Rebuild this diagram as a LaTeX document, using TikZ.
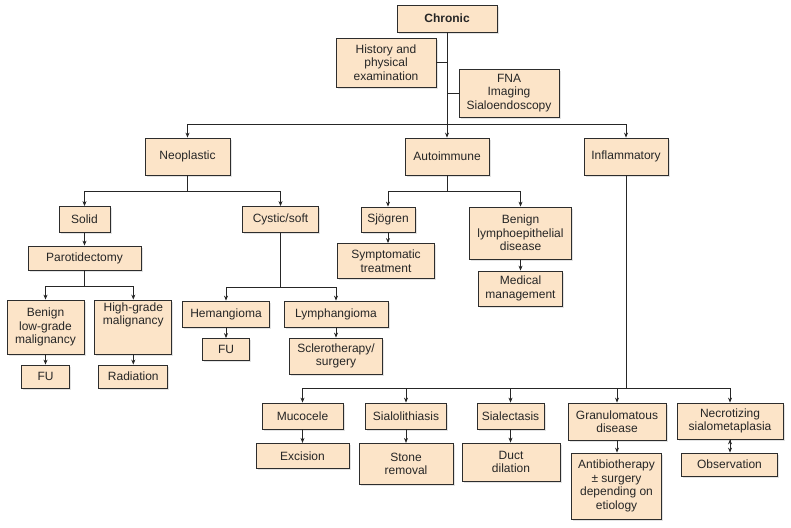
\documentclass[tikz,border=0pt]{standalone}
\usepackage{fontspec}
\setmainfont{Liberation Sans}
\usetikzlibrary{arrows.meta,shadows}
\definecolor{boxfill}{RGB}{252,228,200}
\definecolor{boxline}{RGB}{45,45,45}
\tikzset{
	box/.style={draw=boxline, fill=boxfill, line width=0.8pt, align=center, inner sep=1pt,
		font=\fontsize{12}{13.5}\selectfont, text=black!85,
		drop shadow={shadow xshift=1.6pt, shadow yshift=-1.6pt, fill=black!22}},
	tree/.style={to path={(\tikztostart) -- ++(0,#1) -| (\tikztotarget)}}
}

\begin{document}
\begin{tikzpicture}[x=1pt, y=-1pt]
	\useasboundingbox (0,0) rectangle (791,527);
	% top
	\node (chr) at (447,18.5) [box, minimum width=100pt, minimum height=27pt] {\bfseries Chronic};
	\node (hist) at (386,62.5) [box, minimum width=100pt, minimum height=49pt] {History and\\physical\\examination};
	\node (fna) at (509,93) [box, minimum width=100pt, minimum height=48pt] {FNA\\Imaging\\Sialoendoscopy};
	\node (neo) at (187.5,156.5) [box, minimum width=85pt, minimum height=37pt] {Neoplastic};
	\node (auto) at (447,156.5) [box, minimum width=84pt, minimum height=37pt] {Autoimmune};
	\node (infl) at (626,156.5) [box, minimum width=84pt, minimum height=37pt] {Inflammatory};
	% neoplastic
	\node (solid) at (84.5,219.5) [box, minimum width=51pt, minimum height=26pt] {Solid};
	\node (cyst) at (280.5,219.5) [box, minimum width=76pt, minimum height=26pt] {Cystic/soft};
	\node (paro) at (84.5,258) [box, minimum width=113pt, minimum height=24pt] {Parotidectomy};
	\node (benlow) at (45.5,327) [box, minimum width=77pt, minimum height=54pt] {Benign\\low-grade\\malignancy};
	\node (high) at (133.3,327) [box, minimum width=77pt, minimum height=54pt] {High-grade\\malignancy\\[13.5pt]};
	\node (fua) at (45.5,376.5) [box, minimum width=48pt, minimum height=23pt] {FU};
	\node (rad) at (133.3,376.5) [box, minimum width=69pt, minimum height=23pt] {Radiation};
	\node (hem) at (226,314) [box, minimum width=87pt, minimum height=26pt] {Hemangioma};
	\node (fub) at (226,349.5) [box, minimum width=47pt, minimum height=22pt] {FU};
	\node (lym) at (336,314) [box, minimum width=104pt, minimum height=26pt] {Lymphangioma};
	\node (scl) at (336,356) [box, minimum width=93pt, minimum height=36pt] {Sclerotherapy/\\surgery};
	% autoimmune
	\node (sjo) at (388,219.5) [box, minimum width=54pt, minimum height=25pt] {Sjögren};
	\node (symp) at (386,261) [box, minimum width=97pt, minimum height=35pt] {Symptomatic\\treatment};
	\node (blym) at (520.5,233) [box, minimum width=102pt, minimum height=52pt] {Benign\\lymphoepithelial\\disease};
	\node (med) at (520.5,288.5) [box, minimum width=84pt, minimum height=35pt] {Medical\\management};
	% inflammatory
	\node (muc) at (302.5,416) [box, minimum width=81pt, minimum height=26pt] {Mucocele};
	\node (exc) at (302.5,455.8) [box, minimum width=93pt, minimum height=25pt] {Excision};
	\node (sial) at (406,416) [box, minimum width=81pt, minimum height=26pt] {Sialolithiasis};
	\node (stone) at (406,463.8) [box, minimum width=94pt, minimum height=41pt] {Stone\\removal};
	\node (siec) at (510.5,416) [box, minimum width=67pt, minimum height=26pt] {Sialectasis};
	\node (duct) at (511,462) [box, minimum width=98pt, minimum height=38pt] {Duct\\dilation};
	\node (gran) at (617,421.5) [box, minimum width=98pt, minimum height=37pt] {Granulomatous\\disease};
	\node (anti) at (616.5,486) [box, minimum width=90pt, minimum height=66pt] {Antibiotherapy\\± surgery\\depending on\\etiology};
	\node (necr) at (730,421) [box, minimum width=106pt, minimum height=36pt] {Necrotizing\\sialometaplasia};
	\node (obs) at (729.5,464.5) [box, minimum width=96pt, minimum height=23pt] {Observation};

	\path[-{Stealth[length=5pt,width=4pt]}, line width=0.8pt, draw=black!85]
		(chr.south) edge (auto.north)
					edge [tree=92] (neo.north)
					edge [tree=92] (infl.north)
		(hist.east) edge [-] (hist.east -| chr.south)
		(fna.west) edge [-] (fna.west -| chr.south)
		(neo.south) edge [tree=16] (solid.north)
					edge [tree=16] (cyst.north)
		(solid.south) edge (solid.south |- paro.north)
		(paro.south) edge [tree=16] (benlow.north)
					 edge [tree=16] (high.north)
		(benlow.south) edge (benlow.south |- fua.north)
		(high.south) edge (high.south |- rad.north)
		(cyst.south) edge [tree=54.5] (hem.north)
					 edge [tree=54.5] (lym.north)
		(hem.south) edge (hem.south |- fub.north)
		(lym.south) edge (lym.south |- scl.north)
		(auto.south) edge [tree=16] (sjo.north)
					 edge [tree=16] (blym.north)
		(sjo.south) edge (sjo.south |- symp.north)
		(blym.south) edge (blym.south |- med.north)
		(infl.south) edge [tree=213] (muc.north)
					 edge [tree=213] (sial.north)
					 edge [tree=213] (siec.north)
					 edge [tree=213] (gran.north)
					 edge [tree=213] (necr.north)
		(muc.south) edge (muc.south |- exc.north)
		(sial.south) edge (sial.south |- stone.north)
		(siec.south) edge (siec.south |- duct.north)
		(gran.south) edge (gran.south |- anti.north)
		(necr.south) edge (necr.south |- obs.north);
\end{tikzpicture}
\end{document}
